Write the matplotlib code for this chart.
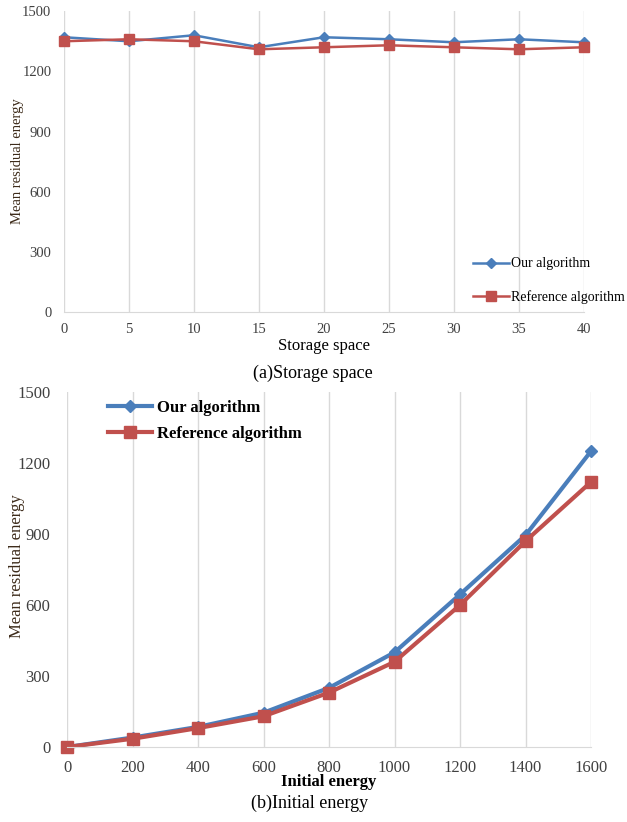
import matplotlib
matplotlib.use('Agg')
import matplotlib.pyplot as plt

plt.rcParams['font.family'] = ['Liberation Serif', 'DejaVu Serif']

# (a) storage space
storage = [0, 5, 10, 15, 20, 25, 30, 35, 40]
ours_a = [1370, 1350, 1380, 1320, 1370, 1360, 1345, 1360, 1345]
ref_a = [1350, 1360, 1350, 1310, 1320, 1330, 1320, 1310, 1320]

# (b) initial energy
initial = [0, 200, 400, 600, 800, 1000, 1200, 1400, 1600]
ours_b = [0, 40, 85, 145, 250, 400, 645, 895, 1250]
ref_b = [0, 35, 80, 130, 230, 360, 600, 870, 1120]

y_ticks = [0, 300, 600, 900, 1200, 1500]

BLUE = '#4a7ebb'
RED = '#c0504d'
GRID = '#d9d9d9'
LABEL_COLOR = '#3d2b1a'

fig = plt.figure(figsize=(6.27, 8.22), dpi=100)


def style_axes(ax, xticks, fs):
    ax.set_ylim(0, 1500)
    ax.set_yticks(y_ticks)
    ax.set_xticks(xticks)
    ax.set_xlim(xticks[0], xticks[-1])
    ax.grid(axis='x', color=GRID, linewidth=1)
    ax.set_axisbelow(True)
    for s in ['top', 'right', 'left']:
        ax.spines[s].set_visible(False)
    ax.spines['bottom'].set_color(GRID)
    ax.tick_params(length=0, labelsize=fs, colors='#404040')
    ax.margins(x=0)


# top chart
ax1 = fig.add_axes([0.102, 0.6204, 0.829, 0.366])
ax1.plot(storage, ours_a, color=BLUE, lw=1.8, marker='D', ms=5, label='Our algorithm', clip_on=False)
ax1.plot(storage, ref_a, color=RED, lw=1.8, marker='s', ms=7, label='Reference algorithm', clip_on=False)
style_axes(ax1, storage, 10.5)
ax1.tick_params(axis='y', pad=9)
ax1.tick_params(axis='x', pad=8)
ax1.set_ylabel('Mean residual energy', fontsize=10.5, color=LABEL_COLOR)
ax1.yaxis.set_label_coords(-0.077, 0.5)
ax1.set_xlabel('Storage space', fontsize=12, labelpad=1)
ax1.legend(loc='lower left', bbox_to_anchor=(0.77, 0.0), frameon=False, fontsize=10,
           handlelength=2.6, labelspacing=1.4, handletextpad=0.2, borderaxespad=0.2)
fig.text(0.499, 0.546, '(a)Storage space', ha='center', va='center', fontsize=13)

# bottom chart
ax2 = fig.add_axes([0.1069, 0.0912, 0.8357, 0.4319])
ax2.plot(initial, ours_b, color=BLUE, lw=3, marker='D', ms=6, label='Our algorithm', clip_on=False)
ax2.plot(initial, ref_b, color=RED, lw=3, marker='s', ms=8, label='Reference algorithm', clip_on=False)
style_axes(ax2, initial, 12)
ax2.tick_params(axis='y', pad=12)
ax2.tick_params(axis='x', pad=9)
ax2.set_ylabel('Mean residual energy', fontsize=12, color=LABEL_COLOR)
ax2.yaxis.set_label_coords(-0.081, 0.51)
ax2.set_xlabel('Initial energy', fontsize=12, labelpad=-1, fontweight='bold')
ax2.legend(loc='upper left', bbox_to_anchor=(0.05, 1.02), frameon=False,
           handlelength=2.6, labelspacing=0.6, handletextpad=0.3, prop={'weight': 'bold', 'size': 12})
fig.text(0.494, 0.023, '(b)Initial energy', ha='center', va='center', fontsize=13)

fig.savefig('out.png', dpi=100)
